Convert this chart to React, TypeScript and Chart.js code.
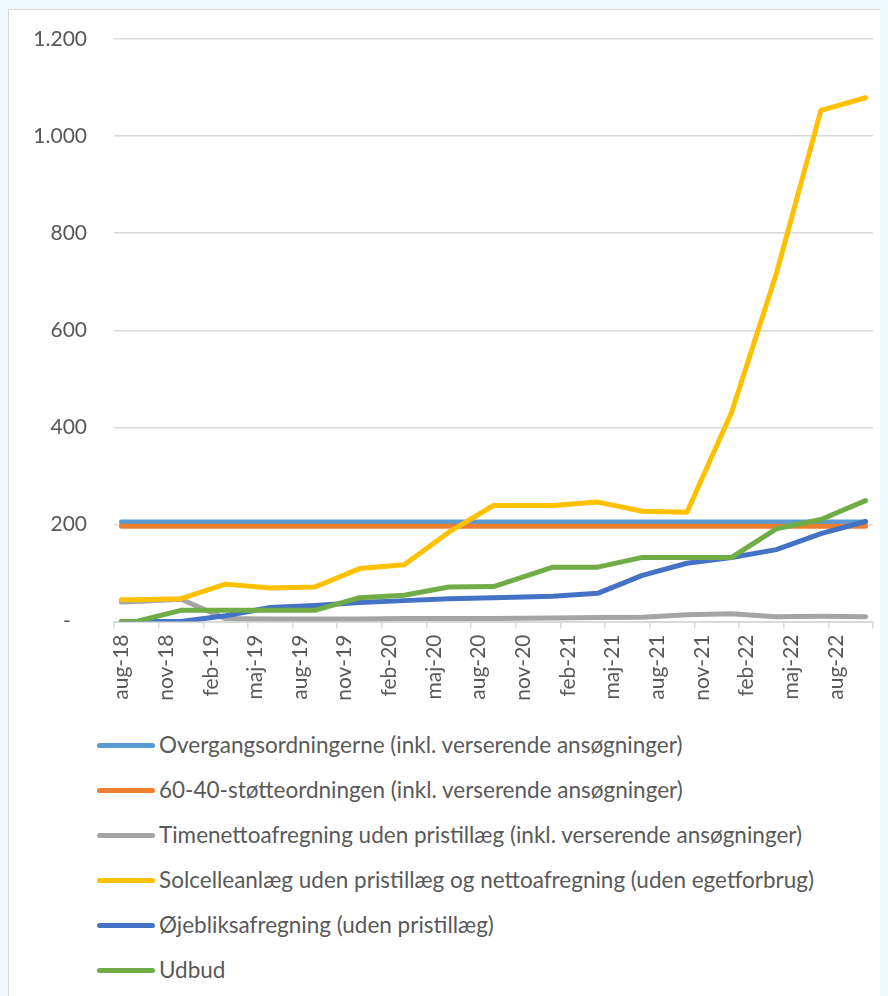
import React, { useEffect, useRef } from "react";
import { Chart, registerables } from "chart.js";

Chart.register(...registerables);

// Month names used on the date axis (Danish)
const MONTH_NAMES = ["jan", "feb", "mar", "apr", "maj", "jun", "jul", "aug", "sep", "okt", "nov", "dec"];

// Axis runs monthly from aug-18 to okt-22 (labels shown every 3rd month)
const axisMonths: string[] = [];
for (let i = 0; i < 51; i++) {
  const k = 7 + i;
  axisMonths.push(`${MONTH_NAMES[k % 12]}-${18 + Math.floor(k / 12)}`);
}

// Observation dates
const dates = [
  "aug-18", "sep-18", "dec-18", "mar-19", "jun-19", "sep-19", "dec-19", "mar-20", "jun-20",
  "sep-20", "jan-21", "apr-21", "jul-21", "okt-21", "jan-22", "apr-22", "jul-22", "okt-22",
];

const overgangsordningerne = [205, 205, 205, 205, 205, 205, 205, 205, 205, 205, 205, 205, 205, 205, 205, 205, 205, 205];
const stoette6040 = [196, 196, 196, 196, 196, 196, 196, 196, 196, 196, 196, 196, 196, 196, 196, 196, 196, 196];
const timenetto = [40, 41, 46, 6, 5, 5, 5, 6, 6, 6, 7, 8, 9, 14, 16, 10, 11, 10];
const solcelle = [45, 45, 47, 77, 69, 71, 109, 117, 184, 239, 239, 246, 227, 225, 431, 716, 1053, 1079];
const ojebliks = [0, 0, 0, 12, 29, 33, 39, 43, 47, 49, 52, 58, 95, 120, 132, 148, 181, 206];
const udbud = [0, 0, 23, 23, 23, 23, 49, 54, 71, 72, 112, 112, 132, 132, 132, 191, 210, 249];

const seriesNames = [
  "Overgangsordningerne (inkl. verserende ansøgninger)",
  "60-40-støtteordningen (inkl. verserende ansøgninger)",
  "Timenettoafregning uden pristillæg (inkl. verserende ansøgninger)",
  "Solcelleanlæg uden pristillæg og nettoafregning (uden egetforbrug)",
  "Øjebliksafregning (uden pristillæg)",
  "Udbud",
];
const seriesValues = [overgangsordningerne, stoette6040, timenetto, solcelle, ojebliks, udbud];
const seriesColors = ["#5B9BD5", "#ED7D31", "#A5A5A5", "#FFC000", "#4472C4", "#70AD47"];

const yTicks = [0, 200, 400, 600, 800, 1000, 1200];

const FONT = "Lato, 'Open Sans', sans-serif";
const TEXT_COLOR = "#595959";
const GRID_COLOR = "#d9d9d9";

function fmt(v: number): string {
  if (v === 0) return "-   ";
  return String(v).replace(/\B(?=(\d{3})+(?!\d))/g, ".");
}

export default function App() {
  const canvasRef = useRef<HTMLCanvasElement | null>(null);

  useEffect(() => {
    document.body.style.background = "#F0F9FC";
    document.body.style.overflow = "hidden";
    let chart: Chart | null = null;
    let cancelled = false;
    const make = () => {
      if (cancelled || !canvasRef.current) return;
      chart = new Chart(canvasRef.current, {
        type: "line",
        data: {
          labels: axisMonths,
          datasets: seriesNames.map((name, si) => ({
            label: name,
            data: dates.map((d, i) => ({ x: d, y: seriesValues[si][i] })),
            borderColor: seriesColors[si],
            backgroundColor: seriesColors[si],
            borderWidth: 5,
            pointRadius: 0,
            pointHoverRadius: 0,
            tension: 0,
            borderCapStyle: "round" as const,
            borderJoinStyle: "round" as const,
            order: 6 - si,
          })),
        },
        options: {
          animation: false,
          responsive: false,
          maintainAspectRatio: false,
          layout: { padding: { top: 29, right: 14, bottom: 0, left: 0 } },
          plugins: {
            legend: { display: false },
            tooltip: { enabled: false },
          },
          scales: {
            x: {
              type: "category",
              offset: true,
              grid: {
                offset: true,
                drawOnChartArea: false,
                drawTicks: true,
                tickLength: 7,
                lineWidth: 1.5,
                color: (c: any) =>
                  c.index === undefined || c.index % 3 === 0 ? GRID_COLOR : "rgba(0,0,0,0)",
              },
              border: { display: true, color: GRID_COLOR, width: 2 },
              ticks: {
                autoSkip: false,
                maxRotation: 90,
                minRotation: 90,
                padding: 6,
                color: TEXT_COLOR,
                font: { family: FONT, size: 21 },
                callback: (_v: any, i: number) => (i % 3 === 0 ? axisMonths[i] : ""),
              },
              afterFit: (s: any) => {
                s.height = 103.5;
                s.paddingLeft = 0;
                s.paddingRight = 0;
              },
            },
            y: {
              min: 0,
              max: 1200,
              afterBuildTicks: (s: any) => {
                s.ticks = yTicks.map((v) => ({ value: v }));
              },
              grid: { color: GRID_COLOR, lineWidth: 1.5, drawTicks: false },
              border: { display: false },
              ticks: {
                padding: 27,
                color: TEXT_COLOR,
                font: { family: FONT, size: 21 },
                callback: (v: any) => fmt(Number(v)),
              },
              afterFit: (s: any) => {
                s.width = 105;
                s.paddingTop = 0;
                s.paddingBottom = 0;
              },
            },
          },
        },
      });
    };
    const fonts: any = (document as any).fonts;
    if (fonts && fonts.load) {
      fonts.load("21px Lato").then(make, make);
    } else {
      make();
    }
    return () => {
      cancelled = true;
      if (chart) chart.destroy();
    };
  }, []);

  return (
    <div
      style={{
        position: "relative",
        top: 1,
        width: 900,
        height: 1000,
        background: "#ffffff",
        border: "1px solid #d9d9d9",
        fontFamily: FONT,
      }}
    >
      <canvas ref={canvasRef} width={878} height={715} style={{ display: "block", width: 878, height: 715 }} />
      {seriesNames.map((name, i) => (
        <div
          key={name}
          style={{
            position: "absolute",
            left: 88,
            top: 735 - 15 + i * 45,
            height: 30,
            display: "flex",
            alignItems: "center",
            whiteSpace: "nowrap",
          }}
        >
          <span
            style={{
              display: "inline-block",
              width: 58,
              height: 5,
              borderRadius: 3,
              background: seriesColors[i],
            }}
          />
          <span style={{ marginLeft: 4, fontSize: 22.5, color: TEXT_COLOR, lineHeight: "30px" }}>{name}</span>
        </div>
      ))}
    </div>
  );
}
